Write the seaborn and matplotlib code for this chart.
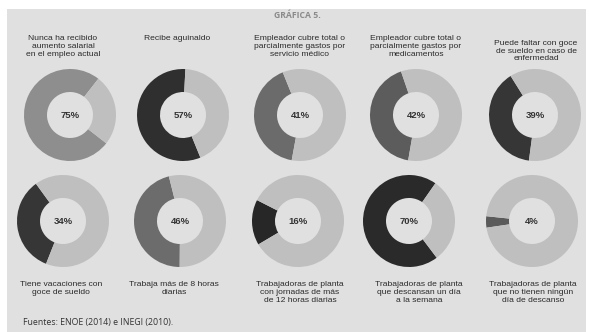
import matplotlib
matplotlib.use("Agg")
import matplotlib.pyplot as plt
from matplotlib.patches import Rectangle
import seaborn as sns

# Datos
etiquetas = [
    "Nunca ha recibido\naumento salarial\nen el empleo actual",
    "Recibe aguinaldo",
    "Empleador cubre total o\nparcialmente gastos por\nservicio médico",
    "Empleador cubre total o\nparcialmente gastos por\nmedicamentos",
    "Puede faltar con goce\nde sueldo en caso de\nenfermedad",
    "Tiene vacaciones con\ngoce de sueldo",
    "Trabaja más de 8 horas\ndiarias",
    "Trabajadoras de planta\ncon jornadas de más\nde 12 horas diarias",
    "Trabajadoras de planta\nque descansan un día\na la semana",
    "Trabajadoras de planta\nque no tienen ningún\ndía de descanso",
]
porcentajes = [75, 57, 41, 42, 39, 34, 46, 16, 70, 4]

# Estilo de cada dona
colores_oscuros = ["#8e8e8e", "#2f2f2f", "#6b6b6b", "#5c5c5c", "#363636",
                   "#363636", "#6c6c6c", "#272727", "#2a2a2a", "#5a5a5a"]
color_claro = "#bfbfbf"
angulos_inicio = [52, 87, 112, 109, 122, 126, 104, 153, 55, 174]

# Posiciones (pixeles)
W, H = 589, 332
centros_x = [70, 183, 300, 416, 535, 63, 180, 298, 409, 532]
centros_y = [115] * 5 + [221] * 5
radio = 46
etiqueta_x = [63, 177, 300, 416, 536, 61, 174, 300, 419, 533]
etiqueta_y = [35, 35, 35, 35, 40, 281, 281, 281, 281, 281]

sns.set_style("white")
plt.rcParams["font.family"] = ["Liberation Sans", "DejaVu Sans"]

fig = plt.figure(figsize=(W / 100, H / 100), dpi=100)
fig.patch.set_facecolor("white")
fig.patches.append(Rectangle((7 / W, 0), 579 / W, 1 - 9 / H, transform=fig.transFigure,
                             facecolor="#e0e0e0", edgecolor="none", zorder=-5))

fig.text(297 / W, 1 - 16 / H, "GRÁFICA 5.", ha="center", va="center", fontsize=6.2,
         fontweight="bold", color="#8a8a8a", family=["Open Sans", "DejaVu Sans"])

for i, p in enumerate(porcentajes):
    cx, cy = centros_x[i], centros_y[i]
    ax = fig.add_axes([(cx - radio) / W, 1 - (cy + radio) / H, 2 * radio / W, 2 * radio / H])
    ax.set_zorder(2)
    ax.pie([p, 100 - p], colors=[colores_oscuros[i], color_claro], startangle=angulos_inicio[i],
           counterclock=True, radius=1, wedgeprops=dict(width=0.5, edgecolor="none"))
    ax.set_xlim(-1, 1)
    ax.set_ylim(-1, 1)
    ax.set_aspect("equal")
    ax.axis("off")
    ax.text(0, 0, f"{p}%", ha="center", va="center", fontsize=6.8, fontweight="bold", color="#333333")
    fig.text(etiqueta_x[i] / W, 1 - etiqueta_y[i] / H, etiquetas[i], ha="center", va="top",
             fontsize=6.1, color="#2a2a2a", linespacing=1.15)

fig.text(23 / W, 1 - 322 / H, "Fuentes: ENOE (2014) e INEGI (2010).", ha="left", va="center",
         fontsize=6.3, color="#333333", family=["Open Sans", "DejaVu Sans"])

fig.savefig("out.png", dpi=100)
